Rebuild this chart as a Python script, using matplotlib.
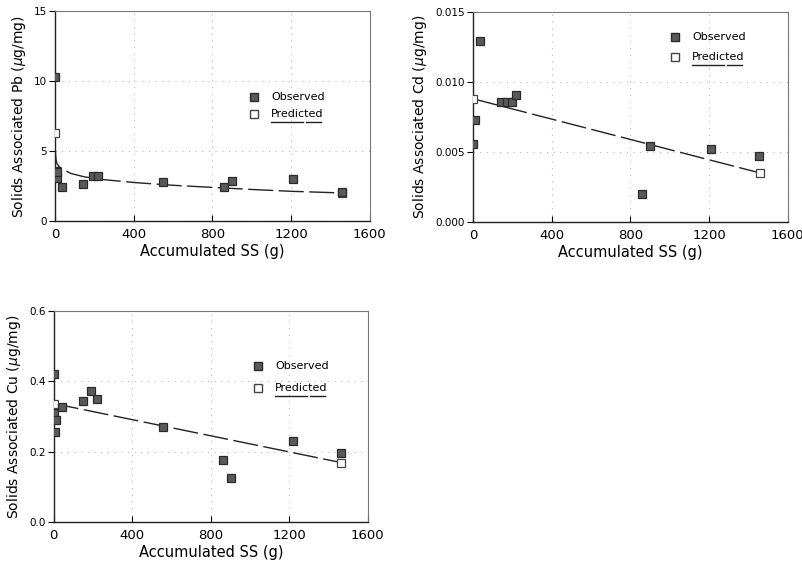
import matplotlib
matplotlib.use("Agg")
import matplotlib.pyplot as plt
from matplotlib.lines import Line2D

# ---- data -------------------------------------------------------------
pb_obs_x = [0, 0, 4, 8, 10, 34, 144, 191, 220, 550, 858, 900, 1210, 1460]
pb_obs_y = [10.3, 3.6, 3.3, 3.05, 3.5, 2.4, 2.65, 3.2, 3.2, 2.8, 2.45, 2.85, 3.0, 2.1]
pb_pred_x = [0, 1460]
pb_pred_y = [6.3, 2.0]
pb_fit_x = [1, 3, 6, 10, 20, 40, 80, 150, 250, 400, 600, 800, 1000, 1200, 1460]
pb_fit_y = [5.4, 4.7, 4.3, 4.1, 3.9, 3.7, 3.4, 3.15, 2.95, 2.75, 2.55, 2.4, 2.25, 2.12, 2.0]

cd_obs_x = [0, 10, 35, 145, 175, 200, 218, 859, 900, 1208, 1455]
cd_obs_y = [0.0056, 0.0073, 0.0129, 0.0086, 0.0086, 0.0086, 0.0091, 0.0020, 0.0054, 0.0052, 0.0047]
cd_pred_x = [0, 1460]
cd_pred_y = [0.0088, 0.0035]

cu_obs_x = [0, 0, 5, 10, 40, 149, 191, 222, 555, 863, 905, 1220, 1465]
cu_obs_y = [0.42, 0.31, 0.256, 0.291, 0.327, 0.344, 0.372, 0.351, 0.27, 0.176, 0.126, 0.231, 0.197]
cu_pred_x = [0, 1465]
cu_pred_y = [0.337, 0.169]

x_ticks = [0, 400, 800, 1200, 1600]
pb_ticks = [0, 5, 10, 15]
cd_ticks = [0.000, 0.005, 0.010, 0.015]
cu_ticks = [0.0, 0.2, 0.4, 0.6]

plt.rcParams["font.family"] = ["DejaVu Sans"]

fig = plt.figure(figsize=(8.03, 5.65), dpi=100)

panels = [
    dict(rect=[0.0685, 0.609, 0.392, 0.371], ox=pb_obs_x, oy=pb_obs_y, px=pb_pred_x, py=pb_pred_y,
         lx=pb_fit_x, ly=pb_fit_y, yt=pb_ticks, fmt="{:.0f}", ylim=(0, 15),
         metal="Pb", leg=(0.632, 0.59, 0.51)),
    dict(rect=[0.589, 0.607, 0.392, 0.372], ox=cd_obs_x, oy=cd_obs_y, px=cd_pred_x, py=cd_pred_y,
         lx=cd_pred_x, ly=cd_pred_y, yt=cd_ticks, fmt="{:.3f}", ylim=(0, 0.015),
         metal="Cd", leg=(0.641, 0.881, 0.786)),
    dict(rect=[0.067, 0.076, 0.391, 0.3735], ox=cu_obs_x, oy=cu_obs_y, px=cu_pred_x, py=cu_pred_y,
         lx=cu_pred_x, ly=cu_pred_y, yt=cu_ticks, fmt="{:.1f}", ylim=(0, 0.6),
         metal="Cu", leg=(0.65, 0.739, 0.635)),
]

obs_face = "#5a5a5a"

for p in panels:
    ax = fig.add_axes(p["rect"])
    ax.set_xlim(0, 1600)
    ax.set_ylim(*p["ylim"])
    ax.set_xticks(x_ticks)
    ax.set_yticks(p["yt"])
    ax.set_yticklabels([p["fmt"].format(v) for v in p["yt"]])
    ax.grid(True, color="#b8b8b8", linestyle=(0, (1, 5)), linewidth=0.8)
    ax.set_axisbelow(True)
    for s in ("left", "bottom"):
        ax.spines[s].set_linewidth(1.0)
        ax.spines[s].set_color("#222222")
    for s in ("top", "right"):
        ax.spines[s].set_linewidth(0.8)
        ax.spines[s].set_color("#777777")
        ax.spines[s].set_linestyle((0, (2, 1)))
    ax.tick_params(axis="x", direction="in", length=4, labelsize=9.5, pad=5, width=0.8)
    ax.tick_params(axis="y", direction="out", length=4, labelsize=7.5, pad=2, width=0.8)

    # fitted / predicted trend
    ax.plot(p["lx"], p["ly"], color="#222222", linewidth=1.0,
            linestyle=(0, (18, 4)), zorder=2)
    # predicted points
    ax.plot(p["px"], p["py"], linestyle="none", marker="s", markersize=6,
            markerfacecolor="white", markeredgecolor="#444444", markeredgewidth=0.9, zorder=3)
    # observed points
    ax.plot(p["ox"], p["oy"], linestyle="none", marker="s", markersize=6.3,
            markerfacecolor=obs_face, markeredgecolor="#2a2a2a", markeredgewidth=0.9, zorder=4)

    ax.set_xlabel("Accumulated SS (g)", fontsize=10.5, labelpad=2)
    ax.set_ylabel("Solids Associated %s ($\\mu$g/mg)" % p["metal"], fontsize=10, labelpad=4)

    # legend
    mx, y1, y2 = p["leg"]
    tx = mx + 0.055
    ax.plot([mx], [y1], transform=ax.transAxes, marker="s", markersize=6,
            markerfacecolor=obs_face, markeredgecolor="#2a2a2a", linestyle="none", clip_on=False)
    ax.plot([mx], [y2], transform=ax.transAxes, marker="s", markersize=6,
            markerfacecolor="white", markeredgecolor="#444444", linestyle="none", clip_on=False)
    ax.text(tx, y1, "Observed", transform=ax.transAxes, fontsize=8, va="center", ha="left")
    ax.text(tx, y2, "Predicted", transform=ax.transAxes, fontsize=8, va="center", ha="left")
    uy = y2 - 0.04
    ax.add_line(Line2D([tx, tx + 0.10], [uy, uy], transform=ax.transAxes, color="#222222", linewidth=1.0))
    ax.add_line(Line2D([tx + 0.11, tx + 0.158], [uy, uy], transform=ax.transAxes, color="#222222", linewidth=1.0))

fig.savefig("out.png", dpi=100, facecolor="white")
